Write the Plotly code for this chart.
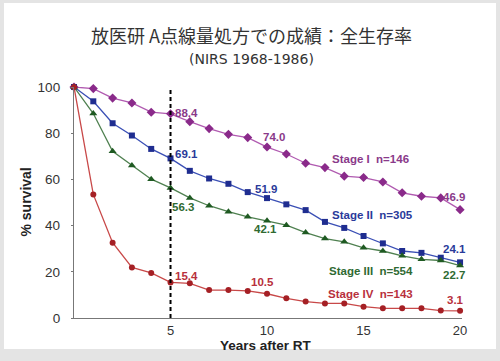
import plotly.graph_objects as go

years = list(range(0, 21))
stage1 = [100, 99.3, 95.2, 93.1, 89.1, 88.4, 85.0, 82.0, 79.5, 78.1, 74.0,
          71.0, 67.0, 65.1, 61.4, 60.8, 58.9, 54.2, 52.7, 52.0, 46.9]
stage2 = [100, 93.8, 84.3, 79.0, 73.2, 69.1, 63.7, 60.4, 58.1, 54.5, 51.9,
          49.2, 46.7, 41.6, 39.0, 35.5, 32.3, 29.0, 28.2, 26.1, 24.1]
stage3 = [100, 88.5, 72.2, 66.0, 60.1, 56.3, 52.0, 48.6, 46.0, 43.8, 42.1,
          40.2, 37.0, 34.4, 33.0, 30.4, 29.0, 26.9, 25.4, 24.9, 22.7]
stage4 = [100, 53.5, 32.6, 21.9, 19.5, 15.4, 15.0, 12.1, 12.1, 11.7, 10.5,
          8.5, 7.1, 6.3, 6.3, 4.9, 4.2, 4.2, 4.2, 3.2, 3.1]

series_names = ["Stage I  n=146", "Stage II  n=305", "Stage III  n=554", "Stage IV  n=143"]
x_tick_vals = [5, 10, 15, 20]
y_tick_vals = [0, 20, 40, 60, 80, 100]

title_text = "放医研 A点線量処方での成績：全生存率"
subtitle_text = "(NIRS 1968-1986)"
x_title = "Years after RT"
y_title = "% survival"

styles = [
    dict(data=stage1, line="#b05ab0", marker="#8a2a8a", symbol="diamond", size=7, text="#8a3a8a"),
    dict(data=stage2, line="#3a4fb5", marker="#1f2d90", symbol="square", size=6, text="#2a3a9a"),
    dict(data=stage3, line="#4f8050", marker="#1f5a22", symbol="triangle-up", size=7, text="#2f6a32"),
    dict(data=stage4, line="#c84848", marker="#a52025", symbol="circle", size=6, text="#b8303c"),
]

fig = go.Figure()
for name, st in zip(series_names, styles):
    fig.add_trace(go.Scatter(
        x=years, y=st["data"], mode="lines+markers", name=name,
        line=dict(color=st["line"], width=1.3),
        marker=dict(color=st["marker"], symbol=st["symbol"], size=st["size"]),
        cliponaxis=False, showlegend=False,
    ))

# value labels (series index, year index, x pos, y pos)
value_labels = [
    (0, 5, 5.85, 88.7), (1, 5, 5.85, 71.0), (2, 5, 5.65, 48.0), (3, 5, 5.85, 18.2),
    (0, 10, 10.35, 78.5), (1, 10, 9.95, 55.7), (2, 10, 9.9, 38.5), (3, 10, 9.75, 15.6),
    (0, 20, 19.7, 52.5), (1, 20, 19.7, 29.9), (2, 20, 19.7, 18.6), (3, 20, 19.75, 7.8),
]
annotations = []
for si, yi, ax, ay in value_labels:
    annotations.append(dict(x=ax, y=ay, xref="x", yref="y", showarrow=False,
                            text="<b>%.1f</b>" % styles[si]["data"][yi],
                            font=dict(size=11.5, color=styles[si]["text"], family="Liberation Sans")))

stage_pos = [(15.36, 68.8), (15.46, 44.6), (15.36, 20.3), (15.36, 10.4)]
for name, st, (ax, ay) in zip(series_names, styles, stage_pos):
    annotations.append(dict(x=ax, y=ay, xref="x", yref="y", showarrow=False,
                            text="<b>" + name.replace("  ", "&nbsp;&nbsp;") + "</b>",
                            font=dict(size=11.5, color=st["text"], family="Liberation Sans")))

# titles
annotations.append(dict(x=(251 - 74) / 388, y=(318 - 35) / 231, xref="paper", yref="paper",
                        showarrow=False, text=title_text, yanchor="middle",
                        font=dict(size=18, color="#333333", family="Noto Sans CJK JP")))
annotations.append(dict(x=(251 - 74) / 388, y=(318 - 59) / 231, xref="paper", yref="paper",
                        showarrow=False, text=subtitle_text, yanchor="middle",
                        font=dict(size=14, color="#333333", family="DejaVu Sans")))
annotations.append(dict(x=(266 - 74) / 388, y=(318 - 345) / 231, xref="paper", yref="paper",
                        showarrow=False, text="<b>" + x_title + "</b>", yanchor="middle",
                        font=dict(size=13.5, color="#222222", family="Liberation Sans")))
annotations.append(dict(x=(25 - 74) / 388, y=0.5, xref="paper", yref="paper", textangle=-90,
                        showarrow=False, text="<b>" + y_title + "</b>", xanchor="center", yanchor="middle",
                        font=dict(size=14, color="#222222", family="Liberation Sans")))

shapes = [
    dict(type="rect", xref="paper", yref="paper",
         x0=(4 - 74) / 388, x1=(496 - 74) / 388, y0=(318 - 349) / 231, y1=(318 - 3) / 231,
         fillcolor="white", line=dict(width=0), layer="below"),
    dict(type="line", xref="x", yref="y", x0=5, x1=5, y0=0, y1=99.6,
         line=dict(color="black", width=2, dash="4px,3px")),
]

fig.update_layout(
    width=500, height=361,
    margin=dict(l=74, r=38, t=87, b=43),
    paper_bgcolor="#e4e4e4", plot_bgcolor="rgba(0,0,0,0)",
    annotations=annotations, shapes=shapes,
    xaxis=dict(range=[0, 20.1], tickvals=x_tick_vals, showgrid=False, zeroline=False,
               showline=True, linecolor="#777777", linewidth=1.3, ticks="",
               tickfont=dict(size=13, color="#333333", family="Liberation Sans")),
    yaxis=dict(range=[0, 100], tickvals=y_tick_vals, showgrid=False, zeroline=False,
               showline=True, linecolor="#777777", linewidth=1.3, ticks="outside", ticklen=2,
               tickcolor="#777777", ticklabelstandoff=8,
               tickfont=dict(size=13.5, color="#333333", family="Liberation Sans")),
)

fig.write_html("out.html", config={"displayModeBar": False},
               post_script="document.body.style.margin='0';document.body.style.overflow='hidden';")
